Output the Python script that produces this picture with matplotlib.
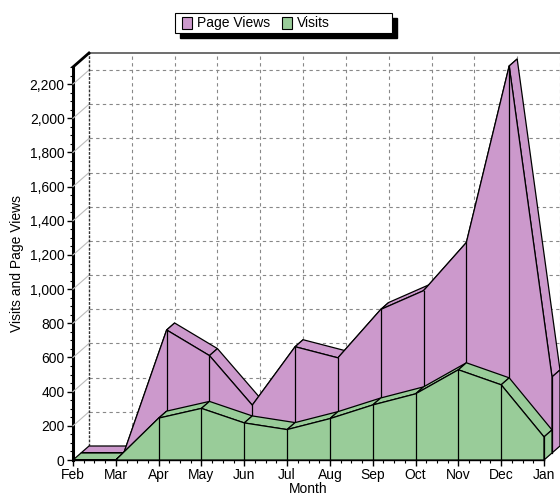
import matplotlib
matplotlib.use('Agg')
import matplotlib.pyplot as plt
from matplotlib.patches import Polygon, Rectangle
from matplotlib.lines import Line2D
from matplotlib.transforms import IdentityTransform
from matplotlib.ticker import MultipleLocator, FuncFormatter

# ---- data ----
months = ['Feb', 'Mar', 'Apr', 'May', 'Jun', 'Jul', 'Aug', 'Sep', 'Oct', 'Nov', 'Dec', 'Jan']
page_views = [0, 0, 720, 570, 280, 622, 557, 840, 950, 1232, 2265, 445]
visits = [0, 0, 245, 302, 217, 178, 242, 322, 387, 528, 440, 135]
y_max = 2300
y_major = 200
y_minor = 50

PINK = '#CC99CC'
GREEN = '#99CC99'
DX, DY = 8, 7          # depth offset (pixels) per series
FONT = 'Liberation Sans'

plt.rcParams['font.family'] = [FONT, 'DejaVu Sans']

fig = plt.figure(figsize=(5.6, 4.97), dpi=100)
ax = fig.add_axes([73 / 560, 37 / 497, 471 / 560, 393 / 497])
ax.set_xlim(0, len(months) - 1)
ax.set_ylim(0, y_max)
ax.patch.set_visible(False)
for s in ['top', 'right']:
    ax.spines[s].set_visible(False)
ax.spines['left'].set_linewidth(2.2)
ax.spines['bottom'].set_linewidth(1.0)
ax.spines['left'].set_zorder(10)
ax.spines['bottom'].set_zorder(10)

ax.set_xticks(range(len(months)))
ax.set_xticklabels(months)
ax.xaxis.set_minor_locator(MultipleLocator(0.25))
ax.yaxis.set_major_locator(MultipleLocator(y_major))
ax.yaxis.set_minor_locator(MultipleLocator(y_minor))
ax.yaxis.set_major_formatter(FuncFormatter(lambda v, p: f'{int(v):,}' if v <= 2200 else ''))
ax.tick_params(axis='both', which='major', length=4, width=1, labelsize=10, pad=2)
ax.tick_params(axis='both', which='minor', length=2, width=0.8)
ax.tick_params(axis='x', pad=2)
ax.set_xlabel('Month', fontsize=10, labelpad=0)
ax.set_ylabel('Visits and Page Views', fontsize=10, labelpad=4)

fig.canvas.draw()


def P(x, y, d):
    px, py = ax.transData.transform((x, y))
    return (px + d * DX, py + d * DY)


def line(p0, p1, **kw):
    l = Line2D([p0[0], p1[0]], [p0[1], p1[1]], transform=IdentityTransform(), clip_on=False, **kw)
    fig.add_artist(l)


def poly(pts, color, z):
    p = Polygon(pts, closed=True, facecolor=color, edgecolor='black', linewidth=0.9,
                transform=IdentityTransform(), clip_on=False, zorder=z, joinstyle='miter')
    fig.add_artist(p)


n = len(months)
BACK = 2
# back wall grid
for v in range(y_major, y_max, y_major):
    line(P(0, v, BACK), P(n - 1, v, BACK), color='#888888', lw=0.8, ls=(0, (3, 3)), zorder=0.5)
    line(P(0, v, 0), P(0, v, BACK), color='#BBBBBB', lw=0.8, zorder=0.5)
for i in range(1, n):
    line(P(i, 0, BACK), P(i, y_max, BACK), color='#888888', lw=0.8, ls=(0, (3, 3)), zorder=0.5)
line(P(0, 0, BACK), P(0, y_max, BACK), color='#333333', lw=1.0, ls=(0, (2, 1)), zorder=0.6)
line(P(0, y_max, BACK), P(n - 1, y_max, BACK), color='#555555', lw=1.2, zorder=0.6)
line(P(0, y_max, 0), P(0, y_max, BACK), color='black', lw=2.0, zorder=0.6)


def draw_series(vals, color, d0, z):
    d1 = d0 + 1
    for i in range(n - 1):
        poly([P(i, vals[i], d0), P(i + 1, vals[i + 1], d0),
              P(i + 1, vals[i + 1], d1), P(i, vals[i], d1)], color, z)
    poly([P(n - 1, 0, d0), P(n - 1, vals[-1], d0), P(n - 1, vals[-1], d1), P(n - 1, 0, d1)], color, z)
    front = [P(0, 0, d0)] + [P(i, vals[i], d0) for i in range(n)] + [P(n - 1, 0, d0)]
    poly(front, color, z + 0.1)
    for i in range(n):
        if vals[i] > 0:
            line(P(i, 0, d0), P(i, vals[i], d0), color='black', lw=0.9, zorder=z + 0.2)


draw_series(page_views, PINK, 1, 1.0)
draw_series(visits, GREEN, 0, 2.0)

# ---- legend ----
lx0, ly0, lw_, lh_ = 175, 497 - 33, 217, 20
fig.add_artist(Rectangle((lx0 + 5, ly0 - 5), lw_, lh_, transform=IdentityTransform(),
                         facecolor='black', edgecolor='black', zorder=5))
fig.add_artist(Rectangle((lx0, ly0), lw_, lh_, transform=IdentityTransform(),
                         facecolor='white', edgecolor='black', linewidth=0.8, zorder=6))
items = [('Page Views', PINK, 182), ('Visits', GREEN, 282)]
for label, col, x in items:
    fig.add_artist(Rectangle((x, ly0 + 4), 10, 12, transform=IdentityTransform(),
                             facecolor=col, edgecolor='black', linewidth=0.8, zorder=7))
    fig.text((x + 15) / 560, (ly0 + 10) / 497, label, fontsize=10, va='center', ha='left', zorder=7)

fig.savefig('out.png', dpi=100)
